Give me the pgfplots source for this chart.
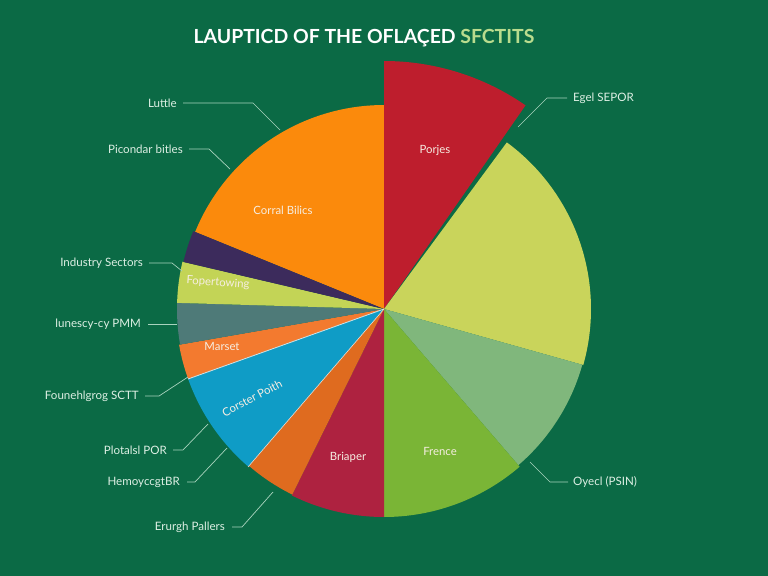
\documentclass[border=0pt]{standalone}
\usepackage{pgfplots}
\pgfplotsset{compat=1.18}
\usepackage{fontspec}
\setmainfont{Lato}
\definecolor{bg}{HTML}{0B6A45}
\definecolor{cOrange}{HTML}{FB8A0C}
\definecolor{cRed}{HTML}{BE1E2D}
\definecolor{cYG}{HTML}{C9D45B}
\definecolor{cSage}{HTML}{80B77C}
\definecolor{cGreen}{HTML}{7AB536}
\definecolor{cCrimson}{HTML}{AE2240}
\definecolor{cDOrange}{HTML}{DF6B1F}
\definecolor{cBlue}{HTML}{0F9CC6}
\definecolor{cMarset}{HTML}{F37A2F}
\definecolor{cTeal}{HTML}{4E7A78}
\definecolor{cYGs}{HTML}{C3D456}
\definecolor{cPurple}{HTML}{3C2B5C}
\definecolor{cLine}{HTML}{A9D3BE}
\definecolor{cLbl}{HTML}{DDEFE4}
\definecolor{cIn}{HTML}{F6EEE2}
\definecolor{cTitle2}{HTML}{B9DC8E}
% slice: colour, start angle, end angle (degrees clockwise from 12 o'clock), radius
\newcommand{\pieslice}[4]{%
  \addplot[fill=#1, draw=none, domain=#2:#3, samples=60, variable=\t]
    ({384+#4*sin(\t)},{309-#4*cos(\t)}) -- (axis cs:384,309) -- cycle;}
\begin{document}
\begin{tikzpicture}
\begin{axis}[x=1bp,y=1bp,xmin=0,xmax=768,ymin=0,ymax=576,y dir=reverse,
  hide axis,clip=false,scale only axis]
\fill[bg] (axis cs:0,0) rectangle (axis cs:768,576);
\coordinate (SW) at (axis cs:0,576);
\coordinate (NE) at (axis cs:768,0);
\pieslice{cOrange}{292.2}{360}{204}
\pieslice{cRed}{0}{34.8}{248}
\pieslice{cYG}{36.4}{105.7}{207}
\pieslice{cSage}{105.7}{139.3}{206}
\pieslice{cGreen}{139.3}{180}{208}
\pieslice{cCrimson}{180}{206.3}{208}
\pieslice{cDOrange}{206.3}{220.7}{207}
\pieslice{cBlue}{220.7}{250.3}{208}
\pieslice{cMarset}{250.3}{260.1}{208}
\pieslice{cTeal}{260.1}{271.7}{207}
\pieslice{cYGs}{271.7}{283.2}{207}
\pieslice{cPurple}{283.2}{292.2}{206}
\addplot[white!75!cBlue, line width=0.8pt] coordinates {(384,309) (188,379)};
\addplot[white!75!cDOrange, line width=0.6pt] coordinates {(384,309) (248,467)};
% leader lines
\addplot[cLine, line width=0.7pt] coordinates {(183,103) (253,103) (280,130)};
\addplot[cLine, line width=0.7pt] coordinates {(189,149) (209,149) (230,169)};
\addplot[cLine, line width=0.7pt] coordinates {(149,263) (172,263) (182,271)};
\addplot[cLine, line width=0.7pt] coordinates {(148,324) (177,324)};
\addplot[cLine, line width=0.7pt] coordinates {(145,396) (159,396) (188,377)};
\addplot[cLine, line width=0.7pt] coordinates {(173,450) (183,450) (208,424)};
\addplot[cLine, line width=0.7pt] coordinates {(187,482) (195,482) (227,448)};
\addplot[cLine, line width=0.7pt] coordinates {(232,527) (242,527) (273,492)};
\addplot[cLine, line width=0.7pt] coordinates {(567,98) (547,98) (518,127)};
\addplot[cLine, line width=0.7pt] coordinates {(568,482) (550,482) (530,462)};
% title
\node[font=\fontsize{19.5}{22}\selectfont\bfseries, text=white] at (axis cs:364,38)
  {LAUPTICD OF THE OFLAÇED \textcolor{cTitle2}{SFCTITS}};
% outer labels
\begin{scope}[every node/.style={font=\fontsize{11.6}{13}\selectfont, text=cLbl, inner sep=0pt}]
\node[anchor=east] at (axis cs:177,103) {Luttle};
\node[anchor=east] at (axis cs:183,149) {Picondar bitles};
\node[anchor=east] at (axis cs:143,263) {Industry Sectors};
\node[anchor=east] at (axis cs:141,324) {lunescy-cy PMM};
\node[anchor=east] at (axis cs:139,396) {Founehlgrog SCTT};
\node[anchor=east] at (axis cs:167,450) {Plotalsl POR};
\node[anchor=east] at (axis cs:180,482) {HemoyccgtBR};
\node[anchor=east] at (axis cs:225,527) {Erurgh Pallers};
\node[anchor=west] at (axis cs:573,98) {Egel SEPOR};
\node[anchor=west] at (axis cs:573,482) {Oyecl (PSIN)};
\end{scope}
% inner labels
\begin{scope}[every node/.style={font=\fontsize{11.4}{13}\selectfont, text=cIn, inner sep=0pt}]
\node at (axis cs:435,150) {Porjes};
\node at (axis cs:283,210) {Corral Bilics};
\node[rotate=-4] at (axis cs:218,283) {Fopertowing};
\node at (axis cs:222,346) {Marset};
\node[rotate=28] at (axis cs:252,398) {Corster Poith};
\node at (axis cs:348,457) {Briaper};
\node at (axis cs:440,451) {Frence};
\end{scope}
\end{axis}
\pgfresetboundingbox
\path[use as bounding box] (SW) rectangle (NE);
\end{tikzpicture}
\end{document}
